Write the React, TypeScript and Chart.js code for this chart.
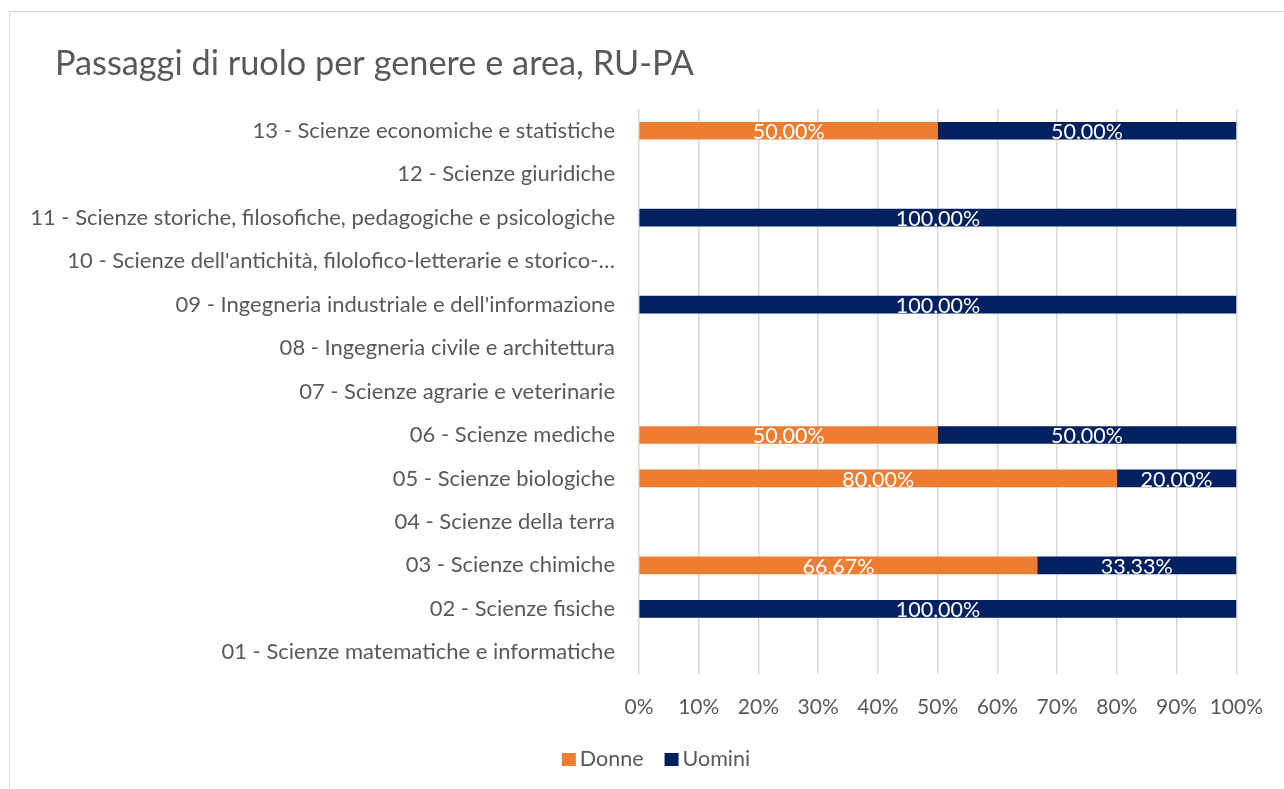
import React, { useEffect, useRef } from "react";
import { Chart, registerables } from "chart.js";

Chart.register(...registerables);

const TITLE = "Passaggi di ruolo per genere e area, RU-PA";

const categories = [
  "13 - Scienze economiche e statistiche",
  "12 - Scienze giuridiche",
  "11 - Scienze storiche, filosofiche, pedagogiche e psicologiche",
  "10 - Scienze dell'antichità, filolofico-letterarie e storico-…",
  "09 - Ingegneria industriale e dell'informazione",
  "08 - Ingegneria civile e architettura",
  "07 - Scienze agrarie e veterinarie",
  "06 - Scienze mediche",
  "05 - Scienze biologiche",
  "04 - Scienze della terra",
  "03 - Scienze chimiche",
  "02 - Scienze fisiche",
  "01 - Scienze matematiche e informatiche",
];

const donne = [50, 0, 0, 0, 0, 0, 0, 50, 80, 0, 66.67, 0, 0];
const uomini = [50, 0, 100, 0, 100, 0, 0, 50, 20, 0, 33.33, 100, 0];

const xTicks = [0, 10, 20, 30, 40, 50, 60, 70, 80, 90, 100];

const FONT = "Lato, 'Open Sans', sans-serif";
const GREY = "#595959";
const FS = 22;

const fmt = (v: number) => v.toFixed(2).replace(".", ",") + "%";

const labelsPlugin = {
  id: "barLabels",
  afterDatasetsDraw(chart: any) {
    const ctx = chart.ctx;
    chart.data.datasets.forEach((ds: any, di: number) => {
      const meta = chart.getDatasetMeta(di);
      meta.data.forEach((el: any, i: number) => {
        const v = ds.data[i];
        if (!v) return;
        const x0 = Math.min(el.x, el.base);
        const x1 = Math.max(el.x, el.base);
        const h = el.height;
        ctx.save();
        ctx.beginPath();
        ctx.rect(x0, el.y - h / 2, x1 - x0, h);
        ctx.clip();
        ctx.fillStyle = "#ffffff";
        ctx.font = `21.5px ${FONT}`;
        ctx.textAlign = "center";
        ctx.textBaseline = "middle";
        ctx.fillText(fmt(v), (x0 + x1) / 2, el.y + 1.5);
        ctx.restore();
      });
    });
  },
  afterDraw(chart: any) {
    const ctx = chart.ctx;
    // title
    ctx.save();
    ctx.fillStyle = GREY;
    ctx.font = `34.3px ${FONT}`;
    ctx.textAlign = "left";
    ctx.textBaseline = "alphabetic";
    ctx.fillText(TITLE, 55, 75);
    // legend
    ctx.font = `21.5px ${FONT}`;
    ctx.textBaseline = "middle";
    const items = chart.data.datasets.map((d: any) => ({
      label: d.label,
      color: d.backgroundColor,
      w: ctx.measureText(d.label).width,
    }));
    const boxW = 14, gap = 4, spacing = 21;
    const total =
      items.reduce((s: number, it: any) => s + boxW + gap + it.w, 0) +
      spacing * (items.length - 1);
    let x = 656 - total / 2;
    const cy = 759;
    items.forEach((it: any) => {
      ctx.fillStyle = it.color;
      ctx.fillRect(x, cy - 6, boxW, 13);
      x += boxW + gap;
      ctx.fillStyle = GREY;
      ctx.fillText(it.label, x, cy);
      x += it.w + spacing;
    });
    ctx.restore();
  },
};

export default function App() {
  const ref = useRef<HTMLCanvasElement | null>(null);

  useEffect(() => {
    document.body.style.margin = "0";
    document.body.style.overflow = "hidden";
    const chart = new Chart(ref.current as HTMLCanvasElement, {
      type: "bar",
      data: {
        labels: categories,
        datasets: [
          {
            label: "Donne",
            data: donne.map((v) => (v === 0 ? null : v)),
            backgroundColor: "#ED7D31",
            barThickness: 17,
          },
          {
            label: "Uomini",
            data: uomini.map((v) => (v === 0 ? null : v)),
            backgroundColor: "#002060",
            barThickness: 17,
          },
        ],
      },
      options: {
        indexAxis: "y",
        animation: false,
        responsive: false,
        maintainAspectRatio: false,
        layout: { padding: { top: 109, right: 46, bottom: 65, left: 0 } },
        plugins: {
          legend: { display: false },
          title: { display: false },
          tooltip: { enabled: false },
        },
        scales: {
          x: {
            stacked: true,
            min: 0,
            max: 100,
            afterBuildTicks: (scale: any) => {
              scale.ticks = xTicks.map((v) => ({ value: v }));
            },
            afterFit: (scale: any) => {
              scale.height = 50;
            },
            grid: {
              color: "#d9d9d9",
              lineWidth: 1.5,
              drawTicks: false,
            },
            border: { display: false },
            ticks: {
              padding: 21,
              color: GREY,
              font: { family: FONT, size: 21 },
              callback: (v: any) => v + "%",
              maxRotation: 0,
              autoSkip: false,
            },
          },
          y: {
            stacked: true,
            afterFit: (scale: any) => {
              scale.width = 639;
            },
            grid: { display: false, drawTicks: false },
            border: { display: false },
            ticks: {
              padding: 24,
              color: GREY,
              font: { family: FONT, size: FS },
              autoSkip: false,
            },
          },
        },
      },
      plugins: [labelsPlugin],
    } as any);
    return () => chart.destroy();
  }, []);

  return (
    <div style={{ position: "fixed", left: 0, top: 0, width: 1284, height: 789, background: "#fff" }}>
      <div
        style={{
          position: "absolute",
          left: 9,
          top: 11,
          width: 1300,
          height: 800,
          border: "1px solid #d9d9d9",
          boxSizing: "border-box",
        }}
      />
      <canvas
        ref={ref}
        width={1284}
        height={789}
        style={{ position: "absolute", left: 0, top: 0, width: 1284, height: 789 }}
      />
    </div>
  );
}
